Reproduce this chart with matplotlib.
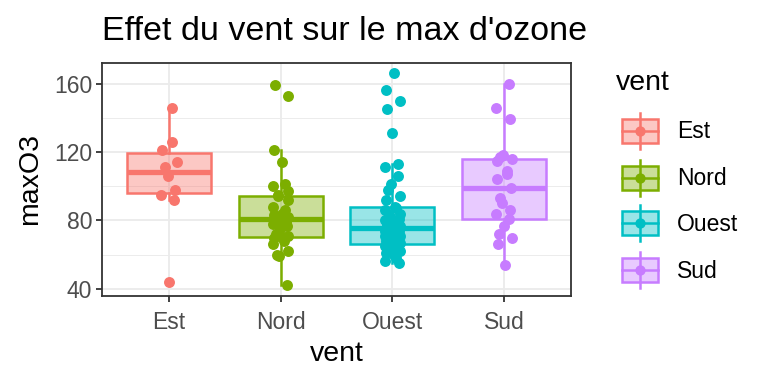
import numpy as np
import matplotlib
matplotlib.use("Agg")
import matplotlib.pyplot as plt
from matplotlib.patches import Rectangle

plt.rcParams['font.family'] = ['Liberation Sans', 'DejaVu Sans']

# maxO3 by wind direction
categories = ["Est", "Nord", "Ouest", "Sud"]
est = [44, 92, 95, 98, 106, 111, 114, 121, 126, 146]
nord = [42, 59, 60, 62, 66, 68, 70, 70, 71, 72, 75, 77, 78, 79, 80, 81,
        82, 83, 84, 86, 88, 92, 94, 95, 97, 100, 101, 114, 121, 153, 159]
ouest = [55, 56, 58, 60, 61, 62, 63, 64, 65, 65, 66, 66, 66, 67, 68, 69,
         70, 71, 71, 72, 73, 74, 74, 75, 75, 76, 77, 78, 78, 79, 80, 81,
         82, 83, 84, 86, 87, 88, 92, 94, 98, 101, 106, 111, 113, 131,
         145, 150, 156, 166]
sud = [54, 66, 70, 72, 77, 81, 84, 86, 90, 93, 99, 104, 107, 109, 115,
       116, 117, 118, 139, 146, 160]
groups = [est, nord, ouest, sud]
colors = ["#F8766D", "#7CAE00", "#00BFC4", "#C77CFF"]

W, H = 768, 384
fig = plt.figure(figsize=(W / 100, H / 100), dpi=100)
fig.patch.set_facecolor("white")

# panel position in pixels
px0, px1, py0, py1 = 102, 571, 62.7, 296
ax = fig.add_axes([px0 / W, 1 - py1 / H, (px1 - px0) / W, (py1 - py0) / H])

ax.set_xlim(0.4, 4.6)
ax.set_ylim(35.8, 172.2)
ax.set_yticks([40, 80, 120, 160])
ax.set_yticks([60, 100, 140], minor=True)
ax.set_xticks([1, 2, 3, 4])
ax.set_xticklabels(categories)
ax.grid(which="major", color="#EBEBEB", linewidth=1.3, zorder=0)
ax.grid(which="minor", axis="y", color="#EBEBEB", linewidth=0.65, zorder=0)
ax.set_axisbelow(True)
for s in ax.spines.values():
    s.set_color("#333333")
    s.set_linewidth(1.3)
ax.tick_params(axis="both", which="major", colors="#333333", labelcolor="#4D4D4D",
               labelsize=16.5, length=4, width=1.3, pad=3)
ax.tick_params(axis="x", which="major", pad=7)
ax.tick_params(axis="y", which="minor", length=0)

for i, (vals, c) in enumerate(zip(groups, colors)):
    pos = i + 1
    bp = ax.boxplot([vals], positions=[pos], widths=0.75, patch_artist=True,
                    showfliers=False, showcaps=False, whis=1.5,
                    manage_ticks=False)
    for b in bp["boxes"]:
        b.set_facecolor(matplotlib.colors.to_rgba(c, 0.4))
        b.set_edgecolor(c)
        b.set_linewidth(1.8)
        b.set_zorder(2)
    for w in bp["whiskers"]:
        w.set_color(c)
        w.set_linewidth(1.8)
        w.set_zorder(2)
    for m in bp["medians"]:
        m.set_color(c)
        m.set_linewidth(3.8)
        m.set_zorder(2)
    n = len(vals)
    jitter = 0.07 * np.sin(np.arange(n) * 2.4 + i)
    ax.scatter(pos + jitter, vals, s=62, color=c, zorder=3, linewidths=0)

# titles and labels
fig.text(px0 / W, 1 - 32 / H, "Effet du vent sur le max d'ozone",
         fontsize=24.5, ha="left", va="center", color="black")
fig.text((px0 + px1) / 2 / W, 1 - 354 / H, "vent", fontsize=20.5,
         ha="center", va="center", color="black")
fig.text(30 / W, 1 - (py0 + py1) / 2 / H, "maxO3", fontsize=20.5,
         ha="center", va="center", rotation=90, color="black")

# legend drawn in pixel space
lg = fig.add_axes([0, 0, 1, 1])
lg.set_xlim(0, W)
lg.set_ylim(H, 0)
lg.axis("off")
lg.text(616, 83, "vent", fontsize=20.5, ha="left", va="center")
rows = [131, 177.7, 223.3, 270]
for lab, c, yc in zip(categories, colors, rows):
    lg.plot([639.7, 639.7], [yc - 18, yc + 18], color=c, lw=1.8, zorder=1)
    lg.add_patch(Rectangle((621.7, yc - 12), 36, 24,
                           facecolor=matplotlib.colors.to_rgba(c, 0.4),
                           edgecolor=c, lw=1.8, zorder=2))
    lg.plot([621.7, 657.7], [yc, yc], color=c, lw=1.8, zorder=3)
    lg.scatter([639.7], [yc], s=55, color=c, zorder=4, linewidths=0)
    lg.text(677, yc + 1, lab, fontsize=16.5, ha="left", va="center", color="black")

fig.savefig("out.png", dpi=100)
